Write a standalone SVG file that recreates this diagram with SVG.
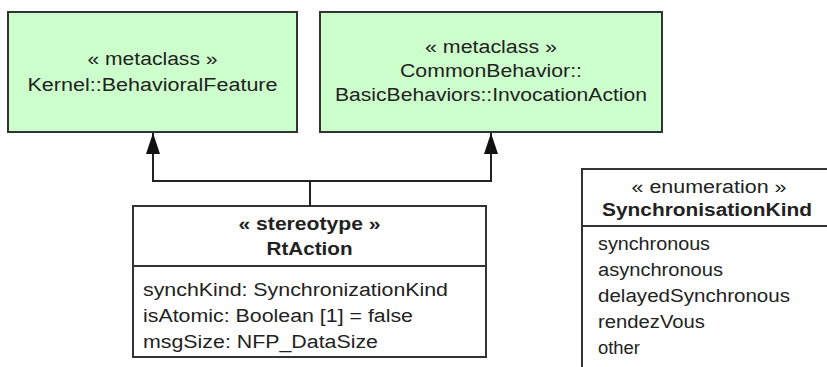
<svg xmlns="http://www.w3.org/2000/svg" width="827" height="367" viewBox="0 0 827 367">
  <defs>
    <marker id="arr" markerUnits="userSpaceOnUse" markerWidth="21" markerHeight="14" viewBox="0 0 21 14" refX="21" refY="7" orient="auto">
      <path d="M0,0 L21,7 L0,14 z" fill="#111"/>
    </marker>
  </defs>
  <style>
    .meta { fill: #ccffcc; stroke: #333; stroke-width: 2; }
    .box { fill: #ffffff; stroke: #333; stroke-width: 2; }
    .sep { stroke: #333; stroke-width: 2; fill: none; }
    .t { font-family: "Liberation Sans", Arial, sans-serif; font-size: 18px; fill: #222; }
    .c { text-anchor: middle; }
    .b { font-weight: bold; }
    .conn { fill: none; stroke: #222; stroke-width: 2; }
  </style>
  <rect x="0" y="0" width="827" height="367" fill="#ffffff"/>

  <g id="kernelBehavioralFeature">
    <rect class="meta" x="8" y="12" width="289" height="120"/>
    <text class="t c" x="152.5" y="65" textLength="130" lengthAdjust="spacingAndGlyphs">« metaclass »</text>
    <text class="t c" x="152.5" y="91" textLength="250" lengthAdjust="spacingAndGlyphs">Kernel::BehavioralFeature</text>
  </g>

  <g id="invocationAction">
    <rect class="meta" x="320" y="12" width="342" height="120"/>
    <text class="t c" x="491" y="53" textLength="132" lengthAdjust="spacingAndGlyphs">« metaclass »</text>
    <text class="t c" x="491" y="77" textLength="182" lengthAdjust="spacingAndGlyphs">CommonBehavior::</text>
    <text class="t c" x="491" y="101" textLength="312" lengthAdjust="spacingAndGlyphs">BasicBehaviors::InvocationAction</text>
  </g>

  <g id="rtAction">
    <rect class="box" x="133" y="206" width="353" height="151"/>
    <line class="sep" x1="133" y1="266" x2="486" y2="266"/>
    <text class="t c b" x="309.5" y="230" textLength="142" lengthAdjust="spacingAndGlyphs">« stereotype »</text>
    <text class="t c b" x="309.5" y="255" textLength="86" lengthAdjust="spacingAndGlyphs">RtAction</text>
    <text class="t" x="143" y="296" textLength="305" lengthAdjust="spacingAndGlyphs">synchKind: SynchronizationKind</text>
    <text class="t" x="143" y="322" textLength="270" lengthAdjust="spacingAndGlyphs">isAtomic: Boolean [1] = false</text>
    <text class="t" x="143" y="348" textLength="235" lengthAdjust="spacingAndGlyphs">msgSize: NFP_DataSize</text>
  </g>

  <g id="synchronisationKind">
    <rect class="box" x="582" y="169" width="252" height="210"/>
    <line class="sep" x1="582" y1="226" x2="834" y2="226"/>
    <text class="t c" x="709" y="193" textLength="155" lengthAdjust="spacingAndGlyphs">« enumeration »</text>
    <text class="t c b" x="707" y="216" textLength="210" lengthAdjust="spacingAndGlyphs">SynchronisationKind</text>
    <text class="t" x="598" y="250" textLength="112" lengthAdjust="spacingAndGlyphs">synchronous</text>
    <text class="t" x="598" y="276" textLength="125" lengthAdjust="spacingAndGlyphs">asynchronous</text>
    <text class="t" x="598" y="302" textLength="192" lengthAdjust="spacingAndGlyphs">delayedSynchronous</text>
    <text class="t" x="598" y="328" textLength="107" lengthAdjust="spacingAndGlyphs">rendezVous</text>
    <text class="t" x="598" y="354" textLength="42" lengthAdjust="spacingAndGlyphs">other</text>
  </g>

  <g id="connectors">
    <path class="conn" d="M310,206 V181 H153 V133" marker-end="url(#arr)"/>
    <path class="conn" d="M310,181 H491 V133" marker-end="url(#arr)"/>
  </g>
</svg>
